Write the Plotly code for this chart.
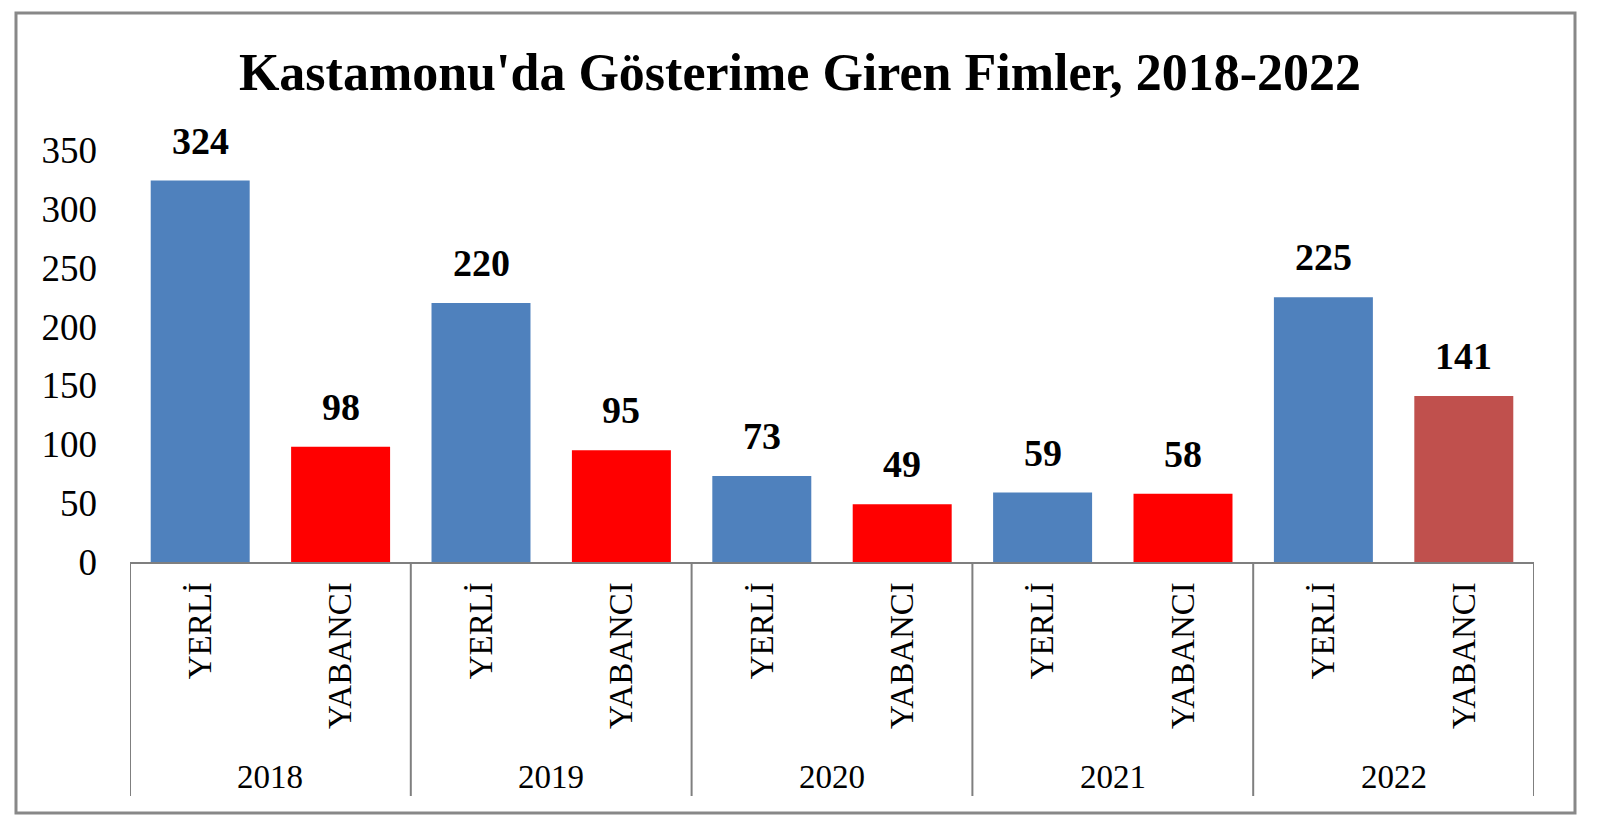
import plotly.graph_objects as go

years = ["2018", "2019", "2020", "2021", "2022"]
types = ["YERLİ", "YABANCI"]
values = [324, 98, 220, 95, 73, 49, 59, 58, 225, 141]
colors = ["#4F81BD", "#FF0000", "#4F81BD", "#FF0000", "#4F81BD", "#FF0000",
          "#4F81BD", "#FF0000", "#4F81BD", "#C0504D"]
title = "Kastamonu'da Gösterime Giren Fimler, 2018-2022"

cats = [f"{y} {t}" for y in years for t in types]
inner = [t for y in years for t in types]

SERIF = "Liberation Serif, Times New Roman, serif"

fig = go.Figure(go.Bar(x=cats, y=values, marker=dict(color=colors, line=dict(width=0)),
                       width=0.705, hoverinfo="skip"))

ann = []
for c, v in zip(cats, values):
    ann.append(dict(x=c, y=v, xref="x", yref="y", text=f"<b>{v}</b>", showarrow=False,
                    yanchor="bottom", yshift=17,
                    font=dict(family=SERIF, size=38, color="black")))
for i, y in enumerate(years):
    ann.append(dict(x=2 * i + 0.5, y=-0.522, xref="x", yref="paper", text=y, showarrow=False,
                    yanchor="middle", xanchor="center",
                    font=dict(family=SERIF, size=33, color="black")))

shapes = []
for k in range(len(years) + 1):
    shapes.append(dict(type="line", xref="x", yref="paper", x0=2 * k - 0.5, x1=2 * k - 0.5,
                       y0=0, y1=-0.568, line=dict(color="#7F7F7F", width=2)))
shapes.append(dict(type="rect", xref="paper", yref="paper", x0=-0.0812, x1=1.0292,
                   y0=-0.609, y1=1.3325, line=dict(color="#888888", width=3)))

fig.update_layout(
    width=1600, height=822,
    margin=dict(l=122, r=74, t=142, b=268),
    paper_bgcolor="white", plot_bgcolor="white",
    showlegend=False,
    title=dict(text=f"<b>{title}</b>", x=(800 - 8) / 1600, xanchor="center",
               y=1 - 63.5 / 822, yanchor="middle",
               font=dict(family=SERIF, size=52, color="black")),
    annotations=ann, shapes=shapes,
    xaxis=dict(type="category", tickvals=cats, ticktext=inner, tickangle=-90,
               tickfont=dict(family=SERIF, size=33, color="black"),
               showline=True, linecolor="#7F7F7F", linewidth=2, ticks="",
               ticklabelstandoff=5, showgrid=False, zeroline=False,
               range=[-0.5, 9.5]),
    yaxis=dict(range=[0, 350], dtick=50, showgrid=False, zeroline=False, showline=False,
               ticks="", ticklabelstandoff=32,
               tickfont=dict(family=SERIF, size=37, color="black")),
)

fig.write_html("out.html")
